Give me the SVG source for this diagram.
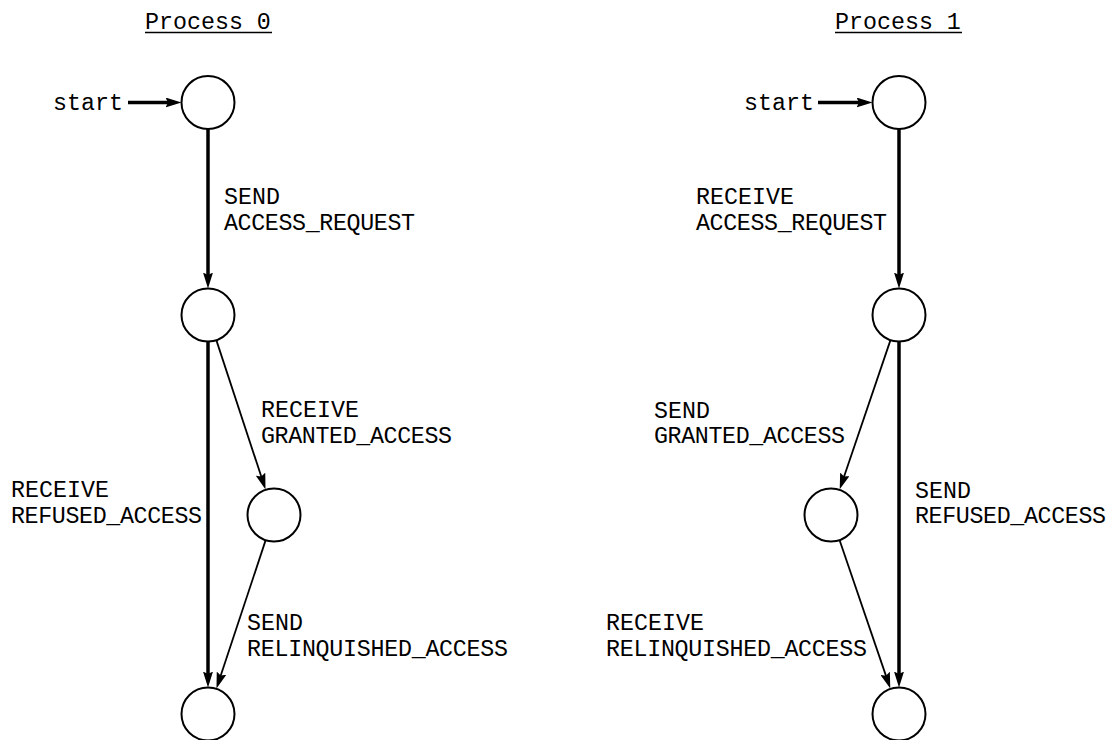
<svg xmlns="http://www.w3.org/2000/svg" width="1112" height="740" viewBox="0 0 1112 740">
  <style>
    .t { font-family: "Liberation Mono", "DejaVu Sans Mono", monospace; font-size: 23.3px; fill: #000; }
    .node { fill: #fff; stroke: #000; stroke-width: 2; }
    .thick { stroke: #000; stroke-width: 3.5; fill: none; }
    .thin { stroke: #000; stroke-width: 1.8; fill: none; }
    .ul { stroke: #000; stroke-width: 1.6; }
  </style>
  <defs>
    <marker id="arr" viewBox="0 0 16 10" refX="8" refY="5" markerWidth="16" markerHeight="10" markerUnits="userSpaceOnUse" orient="auto">
      <path d="M0,0 L16,5 L0,10 L2.5,5 Z" fill="#000"/>
    </marker>
  </defs>
  <rect width="1112" height="740" fill="#fff"/>

  <g id="titles">
    <text class="t" x="145" y="29">Process 0</text>
    <line class="ul" x1="145" y1="32.5" x2="272" y2="32.5"/>
    <text class="t" x="835" y="29">Process 1</text>
    <line class="ul" x1="835" y1="32.5" x2="962" y2="32.5"/>
  </g>

  <g id="connectors">
    <!-- Process 0 -->
    <line class="thick" x1="128" y1="102.5" x2="173.5" y2="102.5" marker-end="url(#arr)"/>
    <line class="thick" x1="208" y1="129" x2="208" y2="280.5" marker-end="url(#arr)"/>
    <line class="thick" x1="208" y1="341.5" x2="208" y2="679.5" marker-end="url(#arr)"/>
    <line class="thin" x1="216.5" y1="340.6" x2="263.0" y2="481.8" marker-end="url(#arr)"/>
    <line class="thin" x1="265.5" y1="540.6" x2="219.0" y2="680.8" marker-end="url(#arr)"/>
    <!-- Process 1 -->
    <line class="thick" x1="818" y1="102.5" x2="864.5" y2="102.5" marker-end="url(#arr)"/>
    <line class="thick" x1="899" y1="129" x2="899" y2="280.5" marker-end="url(#arr)"/>
    <line class="thick" x1="899" y1="341.5" x2="899" y2="679.5" marker-end="url(#arr)"/>
    <line class="thin" x1="890.3" y1="340.6" x2="842.3" y2="481.8" marker-end="url(#arr)"/>
    <line class="thin" x1="839.7" y1="540.5" x2="887.7" y2="680.9" marker-end="url(#arr)"/>
  </g>

  <g id="p0-start-label"><text class="t" x="53" y="110">start</text></g>
  <g id="p1-start-label"><text class="t" x="744" y="110">start</text></g>

  <g id="p0-n0"><circle class="node" cx="208" cy="102.5" r="26.5"/></g>
  <g id="p0-n1"><circle class="node" cx="208" cy="315" r="26.5"/></g>
  <g id="p0-n2"><circle class="node" cx="274" cy="515" r="26.5"/></g>
  <g id="p0-n3"><circle class="node" cx="208" cy="714" r="26.5"/></g>

  <g id="p1-n0"><circle class="node" cx="899" cy="102.5" r="26.5"/></g>
  <g id="p1-n1"><circle class="node" cx="899" cy="315" r="26.5"/></g>
  <g id="p1-n2"><circle class="node" cx="831" cy="515" r="26.5"/></g>
  <g id="p1-n3"><circle class="node" cx="899" cy="714" r="26.5"/></g>

  <g id="labels">
    <text class="t" x="224" y="204">SEND</text>
    <text class="t" x="224" y="229.5" textLength="191" lengthAdjust="spacing">ACCESS_REQUEST</text>

    <text class="t" x="261" y="417">RECEIVE</text>
    <text class="t" x="261" y="443" textLength="191" lengthAdjust="spacing">GRANTED_ACCESS</text>

    <text class="t" x="11" y="497">RECEIVE</text>
    <text class="t" x="11" y="523" textLength="191" lengthAdjust="spacing">REFUSED_ACCESS</text>

    <text class="t" x="247" y="630">SEND</text>
    <text class="t" x="247" y="655.5" textLength="261" lengthAdjust="spacing">RELINQUISHED_ACCESS</text>

    <text class="t" x="696" y="204">RECEIVE</text>
    <text class="t" x="696" y="229.5" textLength="191" lengthAdjust="spacing">ACCESS_REQUEST</text>

    <text class="t" x="654" y="418">SEND</text>
    <text class="t" x="654" y="443" textLength="191" lengthAdjust="spacing">GRANTED_ACCESS</text>

    <text class="t" x="915" y="498">SEND</text>
    <text class="t" x="915" y="523" textLength="191" lengthAdjust="spacing">REFUSED_ACCESS</text>

    <text class="t" x="606" y="630">RECEIVE</text>
    <text class="t" x="606" y="655.5" textLength="261" lengthAdjust="spacing">RELINQUISHED_ACCESS</text>
  </g>
</svg>
